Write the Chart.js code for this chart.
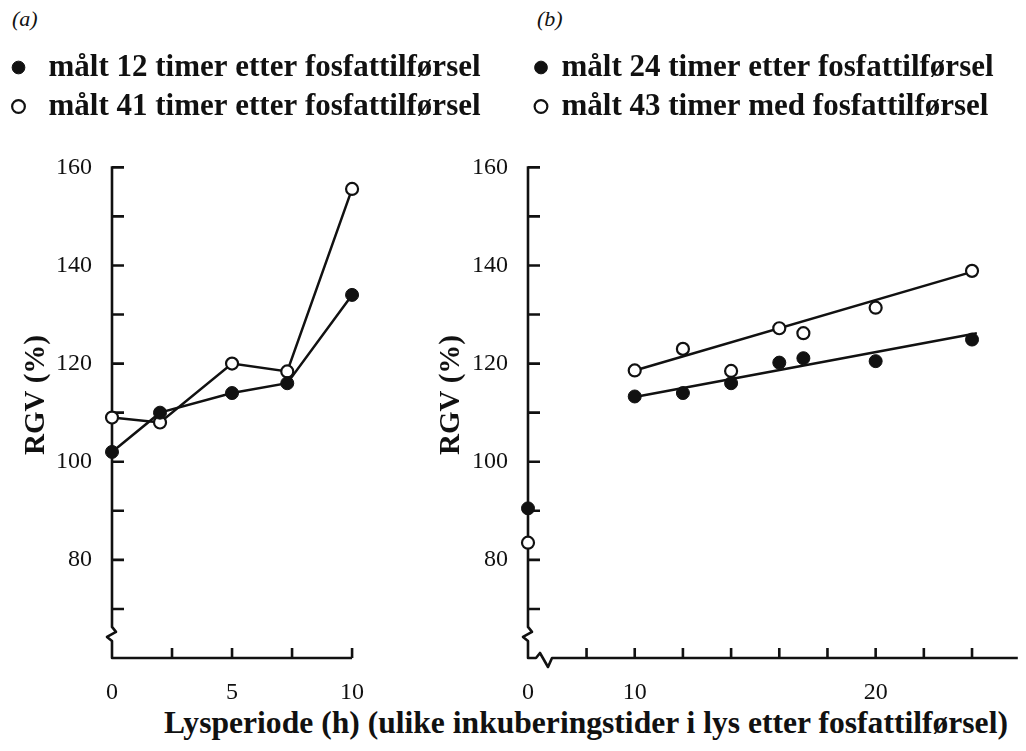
<!DOCTYPE html>
<html lang="no">
<head>
<meta charset="utf-8">
<title>RGV og lysperiode</title>
<script src="https://cdn.jsdelivr.net/npm/chart.js@4.4.1/dist/chart.umd.min.js"></script>
<style>
  html, body { margin: 0; padding: 0; background: #ffffff; }
  body { position: relative; width: 1026px; height: 751px; overflow: hidden;
         font-family: "Liberation Serif", "Times New Roman", serif; color: #111; }
  canvas { display: block; }
  .tag { position: absolute; top: 6px; font-size: 22px; font-style: italic; line-height: 26px; }
  .holder { position: absolute; top: 0; }
  #xTitle { position: absolute; left: 86px; width: 1000px; top: 705px; text-align: center;
            font-weight: bold; font-size: 31.6px; line-height: 36px; white-space: nowrap; }
</style>
</head>
<body>
<div class="tag" style="left:12px">(a)</div>
<div class="tag" style="left:537px">(b)</div>
<div class="holder" style="left:-4px"><canvas id="panelA" width="540" height="700"></canvas></div>
<div class="holder" style="left:420px"><canvas id="panelB" width="606" height="700"></canvas></div>
<div id="xTitle">Lysperiode (h) (ulike inkuberingstider i lys etter fosfattilførsel)</div>

<script>
const INK = '#111111';
const SERIF = '"Liberation Serif", "Times New Roman", serif';

// (a) relative growth vs. light period
const hoursA = [0, 2, 5, 7.3, 10];
const rgvA12h = [102, 110, 114, 116, 134];
const rgvA41h = [109, 108, 120, 118.4, 155.6];
const labelA12h = 'målt 12 timer etter fosfattilførsel';
const labelA41h = 'målt 41 timer etter fosfattilførsel';

// (b) relative growth vs. light period, with fitted lines
const hoursB = [0, 10, 12, 14, 16, 17, 20, 24];
const rgvB24h = [90.5, 113.3, 114, 116, 120.2, 121.1, 120.5, 124.9];
const rgvB43h = [83.5, 118.6, 123, 118.5, 127.2, 126.2, 131.4, 138.9];
const fitHoursB24h = [10, 24.2];
const fitB24h = [113.2, 126.2];
const fitHoursB43h = [10, 24];
const fitB43h = [118.6, 138.7];
const labelB24h = 'målt 24 timer etter fosfattilførsel';
const labelB43h = 'målt 43 timer med fosfattilførsel';

// axis ticks
const yTickLabels = [80, 100, 120, 140, 160];
const yTickMarks = [70, 80, 90, 100, 110, 120, 130, 140, 150, 160];
const xTickLabelsA = [0, 5, 10];
const xTickMarksA = [2.5, 5, 7.5, 10];
const xTickLabelsB = [0, 10, 20];
const xTickMarksB = [8, 10, 12, 14, 16, 18, 20, 22, 24];

// value ranges
const Y_MIN = 60, Y_MAX = 167.2, Y_AXIS_TOP = 160, Y_BREAK = 64.5;
const X_A_MAX = 17.32;
const X_B_ORIGIN = 5.57;   // where hour 0 sits on the broken (b) axis
const X_B_GAP = 4;         // hours below this are pulled up next to the axis origin
const X_B_MAX = 25.9;

// Linear axis with a gap between 0 and the first measured light period
class BrokenLinearScale extends Chart.LinearScale {
  getPixelForValue(value, index) {
    const v = (value !== null && value < X_B_GAP) ? value + X_B_ORIGIN : value;
    return super.getPixelForValue(v, index);
  }
}
BrokenLinearScale.id = 'brokenLinear';
BrokenLinearScale.defaults = {};
Chart.register(BrokenLinearScale);

// Hand-drawn style axes: break marks on the axes and inward tick marks
const axisFrame = {
  id: 'axisFrame',
  beforeDatasetsDraw(chart, args, o) {
    const xs = chart.scales.x, ys = chart.scales.y, ctx = chart.ctx;
    const x0 = xs.getPixelForValue(o.xStart), x1 = xs.getPixelForValue(o.xEnd);
    const yTop = ys.getPixelForValue(Y_AXIS_TOP), y0 = ys.getPixelForValue(Y_MIN);
    const yb = ys.getPixelForValue(Y_BREAK);
    ctx.save();
    ctx.strokeStyle = INK;
    ctx.lineWidth = 2.6;
    ctx.lineJoin = 'round';
    ctx.beginPath();
    ctx.moveTo(x0, yTop - 1);
    ctx.lineTo(x0, yb - 9);
    ctx.lineTo(x0 + 4, yb - 4);
    ctx.lineTo(x0 - 5, yb + 1);
    ctx.lineTo(x0, yb + 5);
    ctx.lineTo(x0, y0);
    if (o.xBreak) {
      ctx.lineTo(x0 + 8, y0);
      ctx.lineTo(x0 + 12, y0 - 5);
      ctx.lineTo(x0 + 20, y0 + 9);
      ctx.lineTo(x0 + 24, y0);
    }
    ctx.lineTo(x1, y0);
    ctx.stroke();
    ctx.beginPath();
    yTickMarks.forEach(v => {
      const p = ys.getPixelForValue(v);
      ctx.moveTo(x0, p); ctx.lineTo(x0 + 12, p);
    });
    o.xMarks.forEach(v => {
      const p = xs.getPixelForValue(v);
      ctx.moveTo(p, y0); ctx.lineTo(p, y0 - 10);
    });
    ctx.stroke();
    ctx.restore();
  }
};

const pts = (xs, ys) => xs.map((x, i) => ({ x, y: ys[i] }));

const filledMarker = { pointRadius: 6.5, pointBackgroundColor: INK, pointBorderColor: INK, pointBorderWidth: 1, pointStyle: 'circle' };
const openMarker = { pointRadius: 6, pointBackgroundColor: '#ffffff', pointBorderColor: INK, pointBorderWidth: 2.2, pointStyle: 'circle' };

function panelOptions(cfg) {
  return {
    responsive: false,
    animation: false,
    events: [],
    devicePixelRatio: 1,
    layout: { padding: { top: 44, right: 4, bottom: 0, left: 0 } },
    plugins: {
      tooltip: { enabled: false },
      title: { display: false },
      legend: {
        display: true,
        position: 'top',
        align: 'start',
        fullSize: cfg.legendFull,
        labels: {
          usePointStyle: true,
          boxWidth: cfg.legendBox,
          boxHeight: 9,
          padding: 8,
          color: INK,
          font: { family: SERIF, size: 31, weight: 'bold' },
          filter: item => item.datasetIndex < 2
        }
      },
      axisFrame: { xStart: 0, xEnd: cfg.xEnd, xMarks: cfg.xMarks, xBreak: cfg.xBreak }
    },
    scales: {
      x: {
        type: cfg.xType,
        bounds: 'data',
        afterDataLimits: s => { s.min = cfg.xMin; s.max = cfg.xMax; },
        afterBuildTicks: s => { s.ticks = cfg.xLabels.map(v => ({ value: v })); },
        afterFit: s => { s.height = 42; },
        grid: { display: false },
        border: { display: false },
        ticks: {
          color: INK, padding: 12, maxRotation: 0, autoSkip: false,
          font: { family: SERIF, size: 24 },
          callback: v => String(v)
        }
      },
      y: {
        type: 'linear',
        bounds: 'data',
        afterDataLimits: s => { s.min = Y_MIN; s.max = Y_MAX; },
        afterBuildTicks: s => { s.ticks = yTickLabels.map(v => ({ value: v })); },
        afterFit: s => { s.width = cfg.yWidth; },
        grid: { display: false },
        border: { display: false },
        ticks: {
          color: INK, padding: 12, autoSkip: false,
          font: { family: SERIF, size: 24 },
          callback: v => String(v)
        },
        title: {
          display: true, text: 'RGV (%)', color: INK,
          font: { family: SERIF, size: 29, weight: 'bold' },
          padding: { top: cfg.yTitlePad, bottom: 0 }
        }
      }
    }
  };
}

new Chart(document.getElementById('panelA'), {
  type: 'line',
  data: {
    datasets: [
      Object.assign({ label: labelA12h, data: pts(hoursA, rgvA12h), borderColor: INK, borderWidth: 2.5, tension: 0, clip: false }, filledMarker),
      Object.assign({ label: labelA41h, data: pts(hoursA, rgvA41h), borderColor: INK, borderWidth: 2.5, tension: 0, clip: false }, openMarker)
    ]
  },
  options: panelOptions({
    xType: 'linear', xMin: 0, xMax: X_A_MAX, xLabels: xTickLabelsA,
    xEnd: 10, xMarks: xTickMarksA, xBreak: false,
    yWidth: 116, yTitlePad: 23, legendBox: 29, legendFull: true
  }),
  plugins: [axisFrame]
});

new Chart(document.getElementById('panelB'), {
  type: 'line',
  data: {
    datasets: [
      Object.assign({ label: labelB24h, data: pts(hoursB, rgvB24h), showLine: false, clip: false }, filledMarker),
      Object.assign({ label: labelB43h, data: pts(hoursB, rgvB43h), showLine: false, clip: false }, openMarker),
      { label: 'trend 24 t', data: pts(fitHoursB24h, fitB24h), borderColor: INK, borderWidth: 2.5, pointRadius: 0, tension: 0, clip: false },
      { label: 'trend 43 t', data: pts(fitHoursB43h, fitB43h), borderColor: INK, borderWidth: 2.5, pointRadius: 0, tension: 0, clip: false }
    ]
  },
  options: panelOptions({
    xType: 'brokenLinear', xMin: X_B_ORIGIN, xMax: X_B_MAX, xLabels: xTickLabelsB,
    xEnd: X_B_MAX, xMarks: xTickMarksB, xBreak: true,
    yWidth: 108, yTitlePad: 14, legendBox: 10, legendFull: false
  }),
  plugins: [axisFrame]
});
</script>
</body>
</html>
